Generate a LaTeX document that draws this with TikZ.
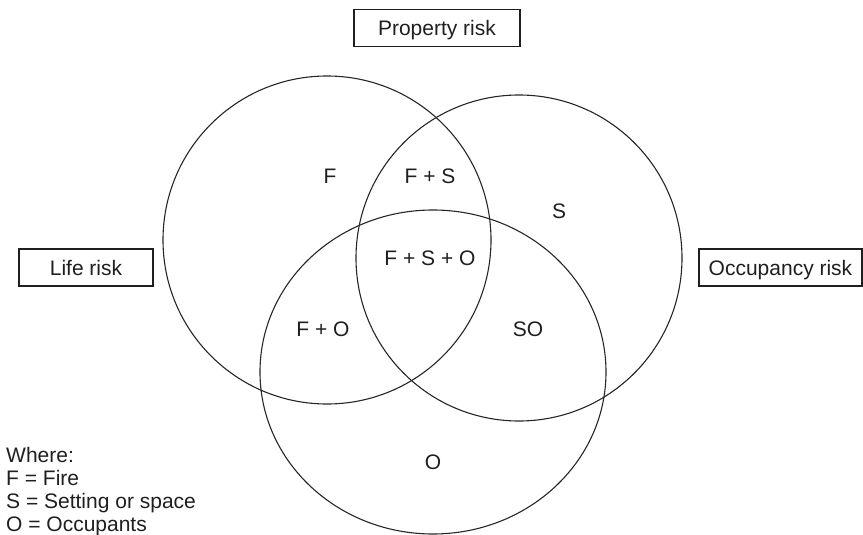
\documentclass[tikz,border=0pt]{standalone}
\usepackage{fontspec}
\setmainfont{Liberation Sans}
\begin{document}
\begin{tikzpicture}[x=1pt,y=-1pt,
  ink/.style={color=black!88},
  outline/.style={draw=black!85, line width=1.1pt},
  riskbox/.style={outline, ink, inner sep=0pt, text height=15pt, text depth=0pt,
                  minimum height=37pt, font=\fontsize{21}{23}\selectfont},
  region/.style={ink, anchor=base, inner sep=0pt, font=\fontsize{21}{23}\selectfont},
  legend/.style={ink, anchor=base west, inner sep=0pt, font=\fontsize{21}{23}\selectfont}]
  \useasboundingbox (0,0) rectangle (863,535);

  % the three overlapping sets
  \coordinate (cF) at (327,240);
  \coordinate (cS) at (519,258);
  \coordinate (cO) at (433,372);
  \draw[outline] (cF) circle[radius=164];
  \draw[outline] (cS) circle[radius=163];
  \begin{scope}
    \clip (0,0) rectangle (863,535);
    \draw[outline] (cO) ellipse[x radius=173, y radius=162];
  \end{scope}

  % risk labels
  \node[riskbox, minimum width=166pt] (property) at (437,28) {Property risk};
  \node[riskbox, minimum width=134pt] (life) at (86,267.5) {Life risk};
  \node[riskbox, minimum width=163pt] (occupancy) at (780.5,267.5) {Occupancy risk};

  % region labels
  \node[region] (rF)   at (330,183) {F};
  \node[region] (rFS)  at (430,183) {F + S};
  \node[region] (rS)   at (559,218) {S};
  \node[region] (rFSO) at (430,265) {F + S + O};
  \node[region] (rFO)  at (323,336) {F + O};
  \node[region] (rSO)  at (528,336) {SO};
  \node[region] (rO)   at (433,469) {O};

  % key
  \node[legend] (k0) at (6,462) {Where:};
  \node[legend] (k1) at (6,485) {F = Fire};
  \node[legend] (k2) at (6,508) {S = Setting or space};
  \node[legend] (k3) at (6,531) {O = Occupants};
\end{tikzpicture}
\end{document}
